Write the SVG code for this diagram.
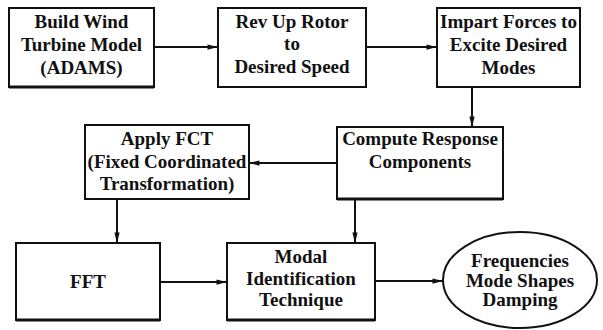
<svg xmlns="http://www.w3.org/2000/svg" width="603" height="330" viewBox="0 0 603 330">
  <style>
    .box { fill: #fff; stroke: #111; stroke-width: 2; }
    .base { stroke: #111; stroke-width: 3; }
    .lbl { font-family: "Liberation Serif", "Times New Roman", serif; font-weight: bold; font-size: 19px; fill: #111; text-anchor: middle; }
    .wire { stroke: #111; stroke-width: 2; fill: none; marker-end: url(#head); }
  </style>
  <defs>
    <marker id="head" viewBox="0 0 12 8" refX="12" refY="4" markerWidth="12" markerHeight="7" markerUnits="userSpaceOnUse" orient="auto">
      <path d="M0,1 L12,4 L0,7 Z" fill="#111"/>
    </marker>
  </defs>
  <rect width="603" height="330" fill="#fff"/>

  <g id="build-model">
    <rect class="box" x="9" y="8" width="145" height="79"/>
    <line class="base" x1="9" y1="87" x2="154" y2="87"/>
    <text class="lbl" x="81.5" y="28">Build Wind</text>
    <text class="lbl" x="81.5" y="51">Turbine Model</text>
    <text class="lbl" x="81.5" y="74">(ADAMS)</text>
  </g>

  <g id="rev-up">
    <rect class="box" x="218" y="8" width="148" height="79"/>
    <text class="lbl" x="292" y="28">Rev Up Rotor</text>
    <text class="lbl" x="292" y="50">to</text>
    <text class="lbl" x="292" y="73">Desired Speed</text>
  </g>

  <g id="impart-forces">
    <rect class="box" x="437" y="8" width="143" height="79"/>
    <text class="lbl" x="508.5" y="28">Impart Forces to</text>
    <text class="lbl" x="508.5" y="51">Excite Desired</text>
    <text class="lbl" x="508.5" y="74">Modes</text>
  </g>

  <g id="compute-response">
    <rect class="box" x="337" y="127" width="166" height="72"/>
    <line class="base" x1="337" y1="199" x2="503" y2="199"/>
    <text class="lbl" x="420" y="145">Compute Response</text>
    <text class="lbl" x="420" y="168">Components</text>
  </g>

  <g id="apply-fct">
    <rect class="box" x="85" y="125" width="164" height="74"/>
    <text class="lbl" x="167" y="145">Apply FCT</text>
    <text class="lbl" x="167" y="168">(Fixed Coordinated</text>
    <text class="lbl" x="167" y="190">Transformation)</text>
  </g>

  <g id="fft">
    <rect class="box" x="16" y="243" width="144" height="77"/>
    <line class="base" x1="16" y1="320" x2="160" y2="320"/>
    <text class="lbl" x="88" y="288">FFT</text>
  </g>

  <g id="modal-id">
    <rect class="box" x="227" y="243" width="148" height="77"/>
    <line class="base" x1="227" y1="320" x2="375" y2="320"/>
    <text class="lbl" x="301" y="263">Modal</text>
    <text class="lbl" x="301" y="285">Identification</text>
    <text class="lbl" x="301" y="306">Technique</text>
  </g>

  <g id="results">
    <ellipse class="box" cx="520" cy="280" rx="77" ry="48"/>
    <text class="lbl" x="520" y="267">Frequencies</text>
    <text class="lbl" x="520" y="287">Mode Shapes</text>
    <text class="lbl" x="520" y="306">Damping</text>
  </g>

  <g id="connectors">
    <line class="wire" x1="154" y1="47" x2="218" y2="47"/>
    <line class="wire" x1="366" y1="47" x2="437" y2="47"/>
    <line class="wire" x1="472" y1="87" x2="472" y2="127"/>
    <line class="wire" x1="337" y1="163" x2="249" y2="163"/>
    <line class="wire" x1="117" y1="199" x2="117" y2="243"/>
    <line class="wire" x1="355" y1="199" x2="355" y2="243"/>
    <line class="wire" x1="160" y1="282" x2="227" y2="282"/>
    <line class="wire" x1="375" y1="281" x2="443" y2="281"/>
  </g>
</svg>
